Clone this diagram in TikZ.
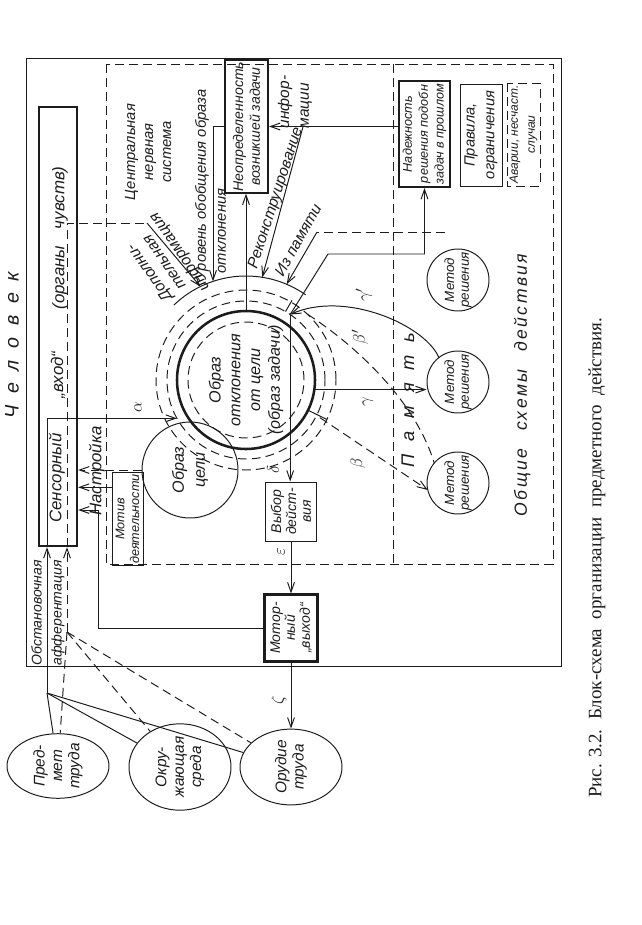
\documentclass[tikz,border=0pt]{standalone}
\usepackage{fontspec}
\setmainfont{Liberation Serif}
\newfontfamily\drft{Liberation Sans}
\usetikzlibrary{arrows.meta, calc, shapes.geometric}
\definecolor{inkblack}{RGB}{28, 28, 28}
\newcommand{\dfont}[2]{\drft\itshape\fontsize{#1}{#2}\selectfont}

\begin{document}
\begin{tikzpicture}[x=0.025cm, y=0.025cm, inkblack, line width=0.7pt,
  arr/.style={-{Straight Barb[length=2.4mm, width=1.7mm]}},
  dsh/.style={dash pattern=on 2.2mm off 1.3mm},
  sz/.style 2 args={minimum width={#2*0.025cm}, minimum height={#1*0.025cm}},
  lbl/.style={rotate=90, inner sep=0pt, align=center, font=\dfont{11}{13}},
  box/.style={draw, rotate=90, inner sep=1pt, align=center},
  meth/.style={draw, circle, rotate=90, inner sep=0pt, align=center, minimum size={62*0.025cm}, font=\dfont{9.5}{10.5}},
  obj/.style={draw, ellipse, rotate=90, inner sep=0pt, align=center, sz={102}{58}, font=\dfont{11}{12.4}}]
  \useasboundingbox (0,0) rectangle (642,-925);

  % Frame of the man and the dashed regions
  \draw (26,-58) rectangle (561,-666);
  \draw[dsh] (106,-64) rectangle (553,-564);
  \draw[dsh] (393,-64) -- (393,-564);
  \node[lbl, font=\dfont{14}{16}\addfontfeature{LetterSpace=60}] (human) at (12,-345) {Человек};
  \node[lbl, font=\dfont{10.5}{12.8}] (cns) at (148,-152) {Центральная\\нервная\\система};
  \node[lbl, font=\dfont{13}{15}\addfontfeature{LetterSpace=70}] (mem) at (408,-400) {Память};
  \node[lbl, font=\dfont{12.5}{15}\addfontfeature{LetterSpace=14}] (schemes) at (522,-385) {Общие\quad схемы\quad действия};

  % Sensory input
  \node[box, sz={38}{439}, line width=1.6pt] (sensor) at (58,-326.5) {};
  \node[lbl, font=\dfont{12}{14}] (sensA) at (57,-478) {Сенсорный};
  \node[lbl, font=\dfont{12}{14}] (sensB) at (58,-375) {„вход“};
  \node[lbl, font=\dfont{12}{14}] (sensC) at (60,-238) {(органы\quad чувств)};
  \node[lbl, font=\dfont{10}{14.2}] (affer) at (48,-613) {Обстановочная\\афферентация};

  % Boxes of the upper row
  \node[box, sz={43}{117}, line width=1.5pt, font=\dfont{10}{12}] (uncert) at (246.5,-126.5) {Неопределенность\\возникшей задачи};
  \node[box, sz={51}{106}, line width=1.5pt, font=\dfont{9}{11.3}] (reliab) at (424.5,-134) {Надежность\\решения подобн\\задач в прошлом};
  \node[box, sz={42}{102}, font=\dfont{10.5}{14}] (rules) at (481,-135) {Правила,\\ограничения};
  \node[box, sz={33}{103}, dsh, font=\dfont{8.5}{12}] (accid) at (523.5,-134.5) {Аварии, несчаст.\\случаи};

  % Methods in memory
  \node[meth] (methA) at (458,-280) {Метод\\решения};
  \node[meth] (methB) at (458,-382) {Метод\\решения};
  \node[meth] (methC) at (458,-483) {Метод\\решения};

  % Image of deviation with its rings
  \coordinate (C) at (246,-380);
  \foreach \r in {58,79,90}
    \draw[dsh] (C) circle (\r);
  \draw (C) ++(55:104) arc[start angle=55, end angle=134, radius=104];
  \draw (C) ++(60:79) -- ++(60:13);
  \draw (C) ++(-26:69) -- ++(-26:21);
  \node[lbl, circle, draw, line width=1.8pt, minimum size={138*0.025cm}, font=\dfont{11.5}{14}] (dev) at (C) {Образ\\отклонения\\от цели\\(образ задачи)};
  \node[lbl, circle, draw, minimum size={96*0.025cm}, font=\dfont{11.5}{15}] (goal) at (190,-470) {Образ\\цели};

  % Motive, choice and motor output
  \node[box, sz={31}{82}, font=\dfont{9}{10.6}] (motive) at (127.5,-519) {Мотив\\деятельности};
  \node[box, sz={51}{59}, font=\dfont{10}{10.6}] (choice) at (291,-511.5) {Выбор\\дейст-\\вия};
  \node[box, sz={53}{67}, line width=1.5pt, font=\dfont{10}{10.6}] (motor) at (291,-628) {Мотор-\\ный\\„выход“};

  % Outer world
  \node[obj] (subj) at (58,-766) {Пред-\\мет\\труда};
  \node[obj] (env) at (180,-767) {Окру-\\жающая\\среда};
  \node[obj] (tool) at (291,-767) {Орудие\\труда};

  % Junctions and bends
  \coordinate (j1) at (47,-693);
  \coordinate (j2) at (67,-632);
  \coordinate (addi) at (147,-223);
  \coordinate (fb) at (98,-510);
  \coordinate (mem0) at (445,-232);
  \coordinate (mem1) at (317,-232);
  \coordinate (rl1) at (328,-254);
  \path (C) ++(209:79) coordinate (alp);
  \path (C) ++(116:104) coordinate (addend);
  \path (C) ++(108.5:104) coordinate (lvl);
  \path (C) ++(81:104) coordinate (rec1);
  \path (C) ++(67:104) coordinate (mem2);
  \path (C) ++(56:79) coordinate (jn);
  \path (C) ++(-8:69) coordinate (g0);
  \path (C) ++(47:90) coordinate (bp0);
  \path (C) ++(-27:83) coordinate (b0);
  \path (uncert.south) ++(34,0) coordinate (rec0);
  \path (methB) ++(128:31) coordinate (gp0);
  \path (methC) ++(140:31) coordinate (bp1);
  \path (methC) ++(193:31) coordinate (b1);

  % Afferent lines from the outer world
  \foreach \o in {subj, env, tool} {
    \draw (j1) -- (\o);
    \draw[dsh] (j2) -- (\o);
  }
  \draw[arr] (j1) -- (j1 |- sensor.west);
  \draw[dsh, arr] (j2) -- (j2 |- sensor.west);
  \draw[arr] (j1 |- sensor.west) |- (alp);
  \draw[dsh] (j2 |- sensor.west) |- (addi);
  \draw[arr] (addi) -- (addend);

  % Tuning of the sensory input
  \draw[dsh, arr] (goal.north) -- (goal.north -| sensor.south);
  \draw[arr] (motive.north east) ++(0,-15) coordinate (mt) -- (mt -| sensor.south);
  \draw[arr] (motor.north) -| (fb) -- (fb -| sensor.south);
  \node[lbl, font=\dfont{12}{14}] (tune) at (97,-471) {Настройка};

  % Central links
  \draw[arr] (dev.east) -- (dev.east |- uncert.west);
  \draw[arr] (uncert.north) -| (lvl);
  \draw[arr] (uncert.south -| reliab.north) -- (uncert.south);
  \draw[arr] (rec0) -- (rec1);
  \draw[dsh] (mem0) -- (mem1);
  \draw[arr] (mem1) -- (mem2);
  \draw[arr] (jn) -- (rl1) -| (reliab.west);
  \draw[arr] (jn) -- (jn |- choice.east);
  \draw[arr] (choice.west) -- (motor.east);
  \draw[arr] (motor.west) -- (tool);
  \draw[arr] (g0) -- (g0 -| methB.north);
  \draw[arr] (gp0) .. controls (425,-325) and (345,-290) .. (jn);
  \draw[dsh] (bp0) .. controls (355,-345) and (415,-400) .. (bp1);
  \draw[dsh, arr] (b0) -- (b1);

  % Labels of the links
  \node[lbl, rotate=35, font=\dfont{11}{13}] (addtxt) at (165,-262) {Дополни-\\тельная\\информация};
  \node[lbl, font=\dfont{10.5}{12}] (lvlA) at (202,-185) {Уровень обобщения образа};
  \node[lbl, font=\dfont{10.5}{12}] (lvlB) at (222,-231) {отклонения};
  \node[lbl, rotate=-18, font=\dfont{11}{13}] (rectxt) at (276,-198) {Реконструирование};
  \node[lbl, align=left, font=\dfont{11}{14}] (inftxt) at (295,-102) {инфор-\\мации};
  \node[lbl, rotate=-29, font=\dfont{11}{13}] (memtxt) at (298,-240) {Из памяти};
  \node[lbl, font=\dfont{13}{15}] (la) at (138,-407) {$\alpha$};
  \node[lbl, font=\dfont{13}{15}] (lb) at (358,-463) {$\beta$};
  \node[lbl, font=\dfont{13}{15}] (lbp) at (360,-337) {$\beta'$};
  \node[lbl, font=\dfont{13}{15}] (lg) at (368,-402) {$\gamma$};
  \node[lbl, font=\dfont{13}{15}] (lgp) at (364,-295) {$\gamma'$};
  \node[lbl, font=\dfont{13}{15}] (ld) at (273,-470) {$\delta$};
  \node[lbl, font=\dfont{13}{15}] (le) at (281,-552) {$\varepsilon$};
  \node[lbl, font=\dfont{13}{15}] (lz) at (279,-700) {$\zeta$};

  % Caption
  \node[rotate=90, inner sep=0pt, font=\fontsize{13.5}{16}\selectfont] (caption) at (597,-558) {Рис. 3.2.\ \ Блок-схема\ \ организации\ \ предметного\ \ действия.};
\end{tikzpicture}
\end{document}
